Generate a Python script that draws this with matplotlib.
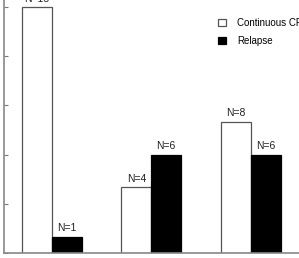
import numpy as np
import matplotlib
matplotlib.use("Agg")
import matplotlib.pyplot as plt

plt.rcParams['font.family'] = ['Liberation Sans', 'DejaVu Sans']

groups = ["0", "1", "2"]
continuous_cr = [15, 4, 8]
relapse = [1, 6, 6]
yticks = [0, 3, 6, 9, 12, 15]

W, H = 299, 258
fig = plt.figure(figsize=(W / 100, H / 100), dpi=100)
# axes deliberately run past the top and right edges, like the cropped original
px_unit_y = 16.4
ymax = 16.5
ax = fig.add_axes([4 / W, 5 / H, 320 / W, ymax * px_unit_y / H])

x = np.arange(len(groups))
w = 0.3
b1 = ax.bar(x - w / 2, continuous_cr, w, color="white", edgecolor="#555555",
            linewidth=0.9, label="Continuous CR")
b2 = ax.bar(x + w / 2, relapse, w, color="black", edgecolor="black",
            linewidth=0.9, label="Relapse")

for bars, vals in [(b1, continuous_cr), (b2, relapse)]:
    for r, v in zip(bars, vals):
        ax.text(r.get_x() + r.get_width() / 2, v + 0.33, "N={}".format(v),
                ha="center", va="baseline", fontsize=7.5, color="#222222")

ax.set_xlim(-0.48, -0.48 + 320 / 99.5)
ax.set_ylim(0, ymax)
ax.set_yticks(yticks)
ax.set_yticklabels([str(t) for t in yticks])
ax.set_xticks(x)
ax.set_xticklabels(groups, fontsize=7)
ax.tick_params(axis="y", direction="in", length=3, color="#777777", labelsize=7)
ax.tick_params(axis="x", length=0, labelsize=7, pad=4)
for s in ["top", "right"]:
    ax.spines[s].set_visible(False)
for s in ["left", "bottom"]:
    ax.spines[s].set_color("#888888")
    ax.spines[s].set_linewidth(1.2)

fig.legend(handles=[b1, b2], loc="upper left", bbox_to_anchor=(214 / W, 1 - 14 / H),
           frameon=False, fontsize=7, handlelength=0.8, handleheight=0.8,
           handletextpad=1.2, labelspacing=0.8, borderaxespad=0)

fig.savefig("out.png", dpi=100)
